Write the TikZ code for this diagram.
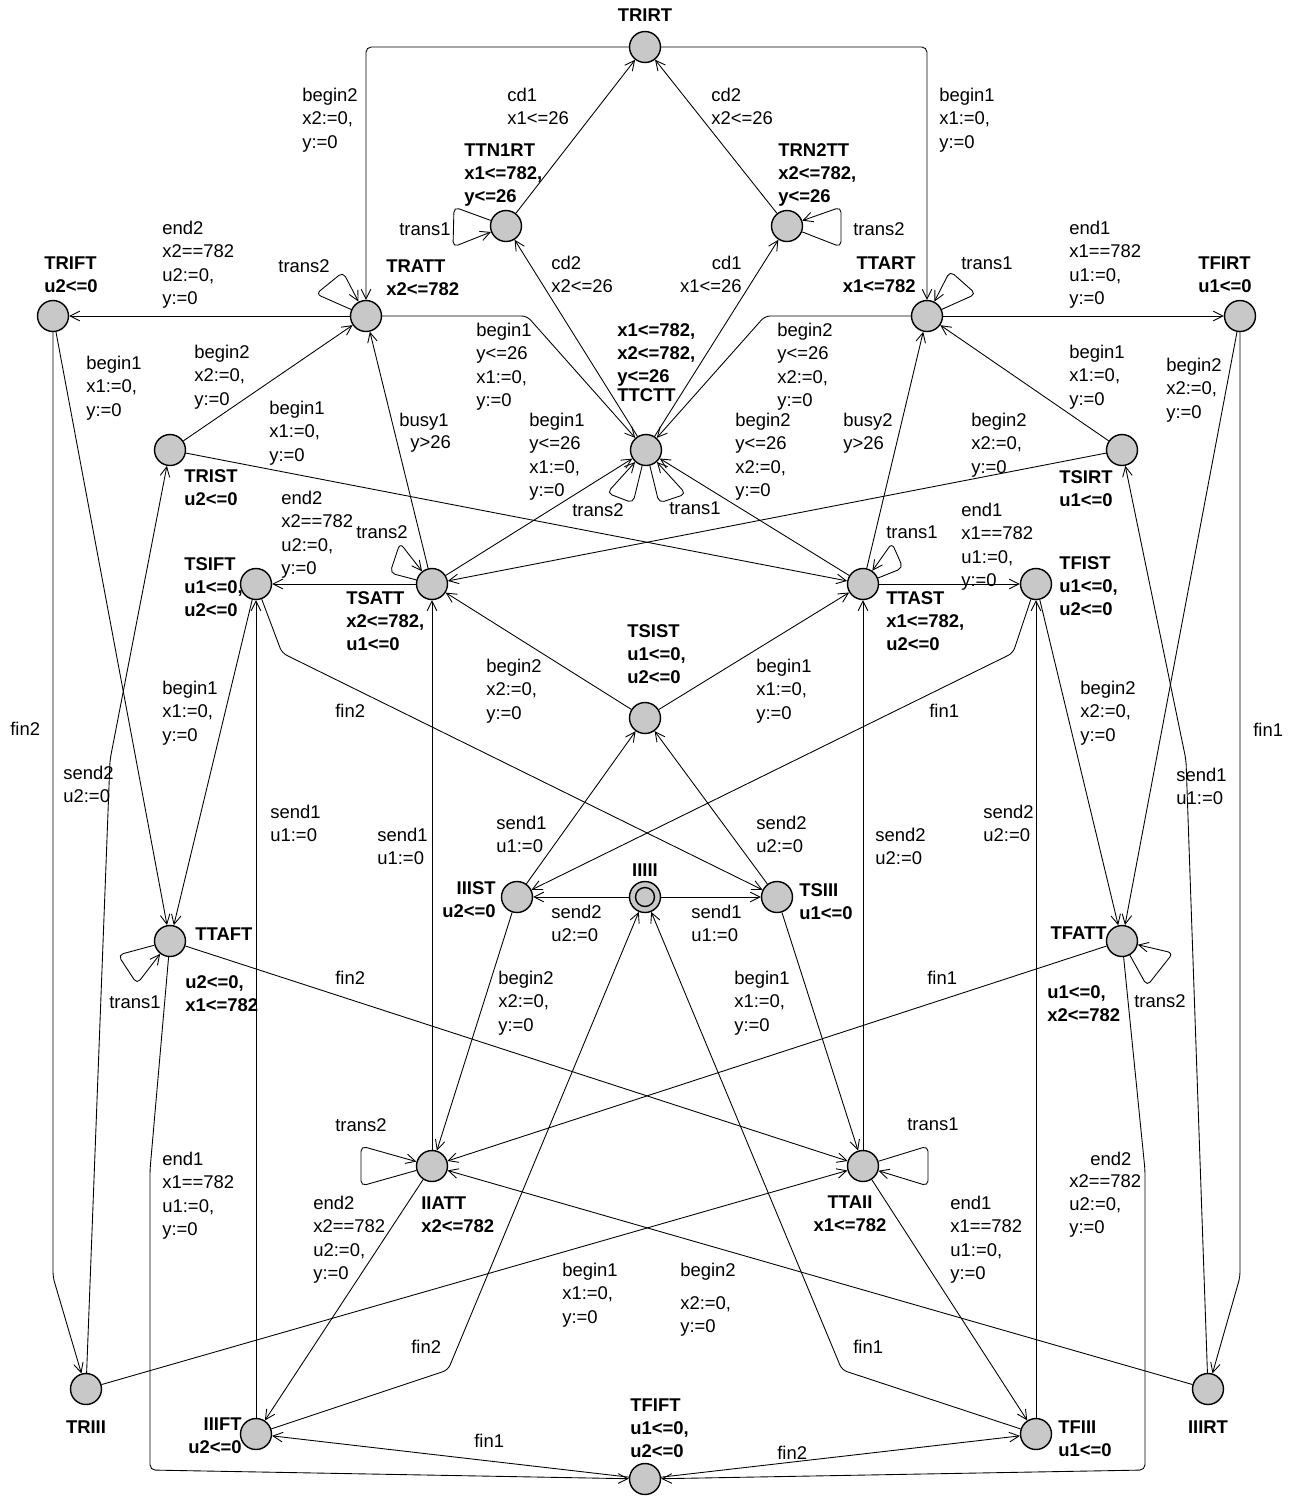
\documentclass[tikz,border=0pt]{standalone}
\usepackage{fontspec}
\setmainfont{Liberation Sans}
\usetikzlibrary{arrows.meta}
\definecolor{stategray}{RGB}{200,200,200}
\begin{document}
\begin{tikzpicture}[x=0.02cm,y=-0.02cm,
  font=\fontsize{10.5}{13.2}\selectfont,
  st/.style={circle,draw,fill=stategray,minimum size=0.62cm,inner sep=0pt,line width=0.8pt},
  tr/.style={-{Straight Barb[length=5.5pt,width=5.5pt]},line width=0.5pt,rounded corners=3pt},
  nl/.style={font=\fontsize{10.5}{13.2}\selectfont\bfseries,align=left,inner sep=0pt,anchor=north west},
  el/.style={align=left,inner sep=0pt,anchor=north west}]
\useasboundingbox (0,0) rectangle (1294,1499);

% ---------------- states ----------------
\node[st] (TRIRT) at (645,47) {};
\node[st] (TTN1RT) at (506,226) {};
\node[st] (TRN2TT) at (787,226) {};
\node[st] (TRIFT) at (53,316) {};
\node[st] (TRATT) at (366,316) {};
\node[st] (TTART) at (927,316) {};
\node[st] (TFIRT) at (1240,316) {};
\node[st] (TRIST) at (170,450) {};
\node[st] (TTCTT) at (646,450) {};
\node[st] (TSIRT) at (1122,450) {};
\node[st] (TSIFT) at (256,584) {};
\node[st] (TSATT) at (432,584) {};
\node[st] (TTAST) at (863,584) {};
\node[st] (TFIST) at (1036,584) {};
\node[st] (TSIST) at (645,718) {};
\node[st] (IIIST) at (517,897) {};
\node[st] (IIIII) at (645,897) {};
\draw[line width=0.8pt] (IIIII.center) circle (0.19cm);
\node[st] (TSIII) at (777,897) {};
\node[st] (TTAFT) at (170,941) {};
\node[st] (TFATT) at (1122,941) {};
\node[st] (IIATT) at (432,1166) {};
\node[st] (TTAII) at (863,1166) {};
\node[st] (TRIII) at (86,1389) {};
\node[st] (IIIRT) at (1208,1389) {};
\node[st] (IIIFT) at (256,1434) {};
\node[st] (TFIII) at (1036,1434) {};
\node[st] (TFIFT) at (645,1479) {};

% ---------------- state labels ----------------
\node[nl,anchor=center] (lTRIRT) at (645,15) {TRIRT};
\node[nl] (lTTN1RT) at (464,143) {TTN1RT\\x1<=782,\\y<=26};
\node[nl] (lTRN2TT) at (778,143) {TRN2TT\\x2<=782,\\y<=26};
\node[nl] (lTRIFT) at (44,256) {TRIFT\\u2<=0};
\node[nl] (lTRATT) at (386,259) {TRATT\\x2<=782};
\node[nl,anchor=north east,align=right] (lTTART) at (916,256) {TTART\\x1<=782};
\node[nl] (lTFIRT) at (1198,256) {TFIRT\\u1<=0};
\node[nl] (lTRIST) at (184,469) {TRIST\\u2<=0};
\node[nl] (lTTCTTi) at (617,323) {x1<=782,\\x2<=782,\\y<=26};
\node[nl] (lTTCTT) at (617,388) {TTCTT};
\node[nl] (lTSIRT) at (1059,470) {TSIRT\\u1<=0};
\node[nl] (lTSIFT) at (184,557) {TSIFT\\u1<=0,\\u2<=0};
\node[nl] (lTSATT) at (346,591) {TSATT\\x2<=782,\\u1<=0};
\node[nl] (lTTAST) at (886,591) {TTAST\\x1<=782,\\u2<=0};
\node[nl] (lTFIST) at (1059,556) {TFIST\\u1<=0,\\u2<=0};
\node[nl] (lTSIST) at (627,624) {TSIST\\u1<=0,\\u2<=0};
\node[nl,anchor=north east,align=right] (lIIIST) at (496,881) {IIIST\\u2<=0};
\node[nl,anchor=center] (lIIIII) at (645,870) {IIIII};
\node[nl] (lTSIII) at (799,883) {TSIII\\u1<=0};
\node[nl] (lTTAFT) at (195,927) {TTAFT};
\node[nl] (lTTAFTi) at (185,975) {u2<=0,\\x1<=782};
\node[nl,anchor=north east] (lTFATT) at (1107,926) {TFATT};
\node[nl] (lTFATTi) at (1047,985) {u1<=0,\\x2<=782};
\node[nl] (lIIATT) at (421,1196) {IIATT\\x2<=782};
\node[nl,anchor=north,align=center] (lTTAII) at (850,1195) {TTAII\\x1<=782};
\node[nl,anchor=center] (lTRIII) at (86,1427) {TRIII};
\node[nl,anchor=center] (lIIIRT) at (1208,1427) {IIIRT};
\node[nl,anchor=north east,align=right] (lIIIFT) at (242,1417) {IIIFT\\u2<=0};
\node[nl] (lTFIII) at (1058,1420) {TFIII\\u1<=0};
\node[nl] (lTFIFT) at (630,1398) {TFIFT\\u1<=0,\\u2<=0};

% ---------------- transitions ----------------
\draw[tr] (TRIRT) -- (366,47) -- (TRATT);
\draw[tr] (TRIRT) -- (927,47) -- (TTART);
\draw[tr] (TTN1RT) -- (TRIRT);
\draw[tr] (TRN2TT) -- (TRIRT);
\draw[tr] (TTN1RT) -- (454,207) -- (453,247) -- (TTN1RT);
\draw[tr] (TRN2TT) -- (841,247) -- (841,207) -- (TRN2TT);
\draw[tr] (TTCTT) -- (TTN1RT);
\draw[tr] (TTCTT) -- (TRN2TT);
\draw[tr] (TRATT) -- (TRIFT);
\draw[tr] (TRATT) -- (316,294) -- (343,272) -- (TRATT);
\draw[tr] (TRATT) -- (527,316) -- (TTCTT);
\draw[tr] (TTART) -- (765,316) -- (TTCTT);
\draw[tr] (TTART) -- (976,294) -- (950,271) -- (TTART);
\draw[tr] (TTART) -- (TFIRT);
\draw[tr] (TRIST) -- (TRATT);
\draw[tr] (TRIST) -- (TTAST);
\draw[tr] (TRIFT) -- (TTAFT);
\draw[tr] (TRIFT) -- (53,1277) -- (TRIII);
\draw[tr] (TRIII) -- (110,760) -- (TRIST);
\draw[tr] (IIIRT) -- (1186,760) -- (TSIRT);
\draw[tr] (TFIRT) -- (1240,1277) -- (IIIRT);
\draw[tr] (TFIRT) -- (TFATT);
\draw[tr] (TSIRT) -- (TTART);
\draw[tr] (TSIRT) -- (TSATT);
\draw[tr] (TTCTT) -- (633,503) -- (607,493) -- (TTCTT);
\draw[tr] (TTCTT) -- (659,503) -- (686,494) -- (TTCTT);
\draw[tr] (TSATT) -- (TTCTT);
\draw[tr] (TTAST) -- (TTCTT);
\draw[tr] (TSATT) -- (TRATT);
\draw[tr] (TTAST) -- (TTART);
\draw[tr] (TSATT) -- (390,573) -- (400,543) -- (TSATT);
\draw[tr] (TTAST) -- (903,568) -- (892,543) -- (TTAST);
\draw[tr] (TSATT) -- (TSIFT);
\draw[tr] (TTAST) -- (TFIST);
\draw[tr] (TSIST) -- (TSATT);
\draw[tr] (TSIST) -- (TTAST);
\draw[tr] (TSIFT) -- (TTAFT);
\draw[tr] (TFIST) -- (TFATT);
\draw[tr] (TSIFT) -- (282,653) -- (TSIII);
\draw[tr] (TFIST) -- (1013,653) -- (IIIST);
\draw[tr] (IIIFT) -- (TSIFT);
\draw[tr] (IIATT) -- (TSATT);
\draw[tr] (TTAII) -- (TTAST);
\draw[tr] (TFIII) -- (TFIST);
\draw[tr] (IIIST) -- (TSIST);
\draw[tr] (TSIII) -- (TSIST);
\draw[tr] (IIIII) -- (IIIST);
\draw[tr] (IIIII) -- (TSIII);
\draw[tr] (IIIST) -- (IIATT);
\draw[tr] (TSIII) -- (TTAII);
\draw[tr] (TTAFT) -- (118,955) -- (137,984) -- (TTAFT);
\draw[tr] (TFATT) -- (1147,986) -- (1173,953) -- (TFATT);
\draw[tr] (TTAFT) -- (TTAII);
\draw[tr] (TFATT) -- (IIATT);
\draw[tr] (IIATT) -- (361,1186) -- (361,1146) -- (IIATT);
\draw[tr] (TTAII) -- (928,1146) -- (928,1186) -- (TTAII);
\draw[tr] (TTAFT) -- (150,1170) -- (150,1470) -- (TFIFT);
\draw[tr] (TFATT) -- (1145,1170) -- (1145,1470) -- (TFIFT);
\draw[tr] (IIATT) -- (IIIFT);
\draw[tr] (TTAII) -- (TFIII);
\draw[tr] (TRIII) -- (TTAII);
\draw[tr] (IIIRT) -- (IIATT);
\draw[tr] (IIIFT) -- (448,1370) -- (IIIII);
\draw[tr] (TFIII) -- (842,1370) -- (IIIII);
\draw[tr] (TFIFT) -- (IIIFT);
\draw[tr] (TFIFT) -- (TFIII);

% ---------------- transition labels ----------------
\node[el] (e1) at (302,88) {begin2\\x2:=0,\\y:=0};
\node[el] (e2) at (939,88) {begin1\\x1:=0,\\y:=0};
\node[el] (e3) at (507,88) {cd1\\x1<=26};
\node[el] (e4) at (711,88) {cd2\\x2<=26};
\node[el] (e5) at (399,222) {trans1};
\node[el] (e6) at (853,222) {trans2};
\node[el] (e7) at (551,256) {cd2\\x2<=26};
\node[el,anchor=north east,align=right] (e8) at (742,256) {cd1\\x1<=26};
\node[el] (e9) at (162,221) {end2\\x2==782\\u2:=0,\\y:=0};
\node[el,anchor=north east] (e10) at (330,259) {trans2};
\node[el] (e11) at (476,323) {begin1\\y<=26\\x1:=0,\\y:=0};
\node[el] (e12) at (777,323) {begin2\\y<=26\\x2:=0,\\y:=0};
\node[el] (e13) at (961,256) {trans1};
\node[el] (e14) at (1069,221) {end1\\x1==782\\u1:=0,\\y:=0};
\node[el] (e15) at (194,345) {begin2\\x2:=0,\\y:=0};
\node[el] (e16) at (269,401) {begin1\\x1:=0,\\y:=0};
\node[el] (e17) at (86,356) {begin1\\x1:=0,\\y:=0};
\node[el] (e18) at (10,722) {fin2};
\node[el] (e19) at (63,766) {send2\\u2:=0};
\node[el] (e20) at (1176,768) {send1\\u1:=0};
\node[el] (e21) at (1253,723) {fin1};
\node[el] (e22) at (1166,358) {begin2\\x2:=0,\\y:=0};
\node[el] (e23) at (1069,345) {begin1\\x1:=0,\\y:=0};
\node[el] (e24) at (971,413) {begin2\\x2:=0,\\y:=0};
\node[el] (e25) at (572,503) {trans2};
\node[el] (e26) at (669,501) {trans1};
\node[el] (e27) at (529,413) {begin1\\y<=26\\x1:=0,\\y:=0};
\node[el] (e28) at (735,413) {begin2\\y<=26\\x2:=0,\\y:=0};
\node[el] (e29a) at (399,413) {busy1};
\node[el] (e29b) at (410,435) {y>26};
\node[el] (e30) at (843,413) {busy2\\y>26};
\node[el] (e31) at (356,525) {trans2};
\node[el] (e32) at (886,525) {trans1};
\node[el] (e33) at (281,491) {end2\\x2==782\\u2:=0,\\y:=0};
\node[el] (e34) at (961,503) {end1\\x1==782\\u1:=0,\\y:=0};
\node[el] (e35) at (486,659) {begin2\\x2:=0,\\y:=0};
\node[el] (e36) at (756,659) {begin1\\x1:=0,\\y:=0};
\node[el] (e37) at (162,681) {begin1\\x1:=0,\\y:=0};
\node[el] (e38) at (1080,681) {begin2\\x2:=0,\\y:=0};
\node[el] (e39) at (335,704) {fin2};
\node[el] (e40) at (929,704) {fin1};
\node[el] (e41) at (270,805) {send1\\u1:=0};
\node[el] (e42) at (377,828) {send1\\u1:=0};
\node[el] (e43) at (496,816) {send1\\u1:=0};
\node[el] (e44) at (756,816) {send2\\u2:=0};
\node[el] (e45) at (875,828) {send2\\u2:=0};
\node[el] (e46) at (983,805) {send2\\u2:=0};
\node[el] (e47) at (551,905) {send2\\u2:=0};
\node[el] (e48) at (691,905) {send1\\u1:=0};
\node[el] (e49) at (109,995) {trans1};
\node[el] (e50) at (1134,994) {trans2};
\node[el] (e51) at (335,971) {fin2};
\node[el] (e52) at (927,971) {fin1};
\node[el] (e53) at (498,971) {begin2\\x2:=0,\\y:=0};
\node[el] (e54) at (734,971) {begin1\\x1:=0,\\y:=0};
\node[el] (e55) at (335,1118) {trans2};
\node[el] (e56) at (907,1117) {trans1};
\node[el] (e57) at (162,1152) {end1\\x1==782\\u1:=0,\\y:=0};
\node[el] (e58) at (313,1196) {end2\\x2==782\\u2:=0,\\y:=0};
\node[el] (e59) at (950,1196) {end1\\x1==782\\u1:=0,\\y:=0};
\node[el] (e60a) at (1090,1152) {end2};
\node[el] (e60b) at (1069,1174) {x2==782\\u2:=0,\\y:=0};
\node[el] (e61) at (562,1263) {begin1\\x1:=0,\\y:=0};
\node[el] (e62a) at (680,1263) {begin2};
\node[el] (e62b) at (680,1296) {x2:=0,\\y:=0};
\node[el] (e63) at (411,1340) {fin2};
\node[el] (e64) at (853,1340) {fin1};
\node[el] (e65) at (474,1434) {fin1};
\node[el] (e66) at (777,1446) {fin2};
\end{tikzpicture}
\end{document}
